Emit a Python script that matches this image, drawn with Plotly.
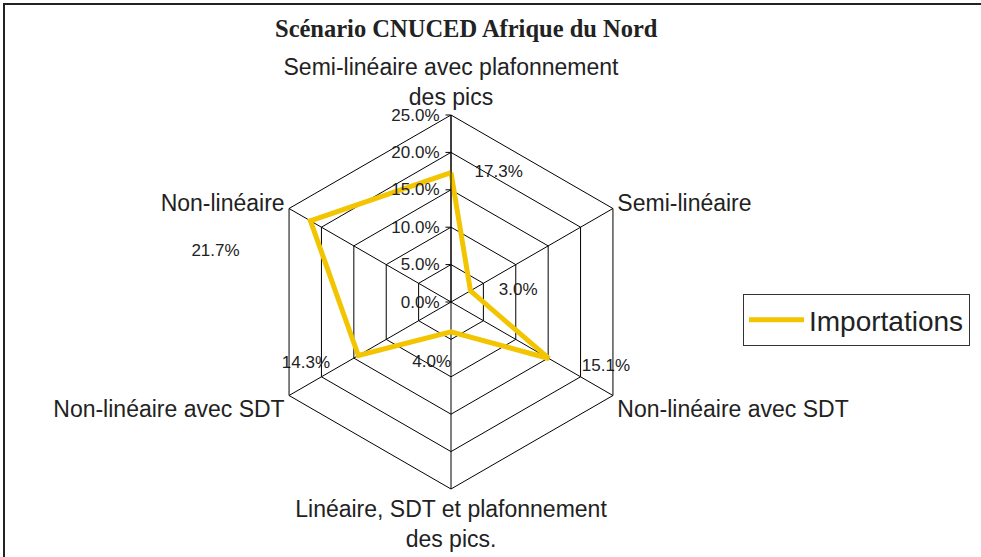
import plotly.graph_objects as go

W, H = 981, 557

categories = [
    "Semi-linéaire avec plafonnement des pics",
    "Semi-linéaire",
    "Non-linéaire avec SDT (1)",
    "Linéaire, SDT et plafonnement des pics.",
    "Non-linéaire avec SDT (2)",
    "Non-linéaire",
]
tick_labels = [
    "Semi-linéaire avec plafonnement<br>des pics",
    "Semi-linéaire",
    "Non-linéaire avec SDT",
    "Linéaire, SDT et plafonnement<br>des pics.",
    "Non-linéaire avec SDT",
    "Non-linéaire",
]
importations = [0.173, 0.030, 0.151, 0.040, 0.143, 0.217]
value_labels = ["17.3%", "3.0%", "15.1%", "4.0%", "14.3%", "21.7%"]

NB = "\u00a0"
label_text = [
    NB * 5 + value_labels[0],
    NB * 6 + value_labels[1],
    NB * 7 + value_labels[2],
    "<br>" + value_labels[3],
    value_labels[4] + NB * 6,
    "<br>" + value_labels[5] + NB * 15,
]
label_pos = ["middle right", "middle right", "bottom right",
             "bottom left", "bottom left", "bottom left"]

YELLOW = "#F2C500"
DARK = "#222222"

fig = go.Figure()
fig.add_trace(go.Scatterpolar(
    r=importations + importations[:1],
    theta=categories + categories[:1],
    mode="lines",
    line=dict(color=YELLOW, width=5),
    name="Importations",
))
fig.add_trace(go.Scatterpolar(
    r=importations,
    theta=categories,
    mode="text",
    text=label_text,
    textposition=label_pos,
    textfont=dict(family="Liberation Sans, Arial", size=17, color=DARK),
    showlegend=False,
    hoverinfo="skip",
))

cx, cy, R = 451, 302, 187
fig.update_layout(
    width=W, height=H,
    margin=dict(l=0, r=0, t=0, b=0),
    paper_bgcolor="white",
    plot_bgcolor="white",
    font=dict(family="Liberation Sans, Arial", color=DARK),
    polar=dict(
        domain=dict(x=[(cx - R) / W, (cx + R) / W],
                    y=[(H - cy - R) / H, (H - cy + R) / H]),
        bgcolor="white",
        gridshape="linear",
        radialaxis=dict(
            range=[0, 0.25], dtick=0.05, tick0=0, tickformat=".1%",
            angle=90, side="counterclockwise", tickangle=90,
            showline=True, linecolor="black", linewidth=1,
            gridcolor="black", gridwidth=1,
            ticks="outside", ticklen=5, tickcolor="black",
            tickfont=dict(size=17, color=DARK),
        ),
        angularaxis=dict(
            type="category",
            direction="clockwise", rotation=90,
            tickmode="array", tickvals=categories, ticktext=tick_labels,
            showline=True, linecolor="black", linewidth=1,
            gridcolor="black", gridwidth=1,
            ticks="", tickfont=dict(size=23, color=DARK),
        ),
    ),
    showlegend=True,
    legend=dict(
        x=743 / W, y=1 - 294 / H, xanchor="left", yanchor="top",
        bordercolor="#333333", borderwidth=1, bgcolor="white",
        font=dict(size=28, color=DARK), itemwidth=55,
    ),
    annotations=[dict(
        text="<b>Scénario CNUCED Afrique du Nord</b>",
        xref="paper", yref="paper", x=466 / W, y=1 - 28 / H,
        xanchor="center", yanchor="middle", showarrow=False,
        font=dict(family="Liberation Serif, Times New Roman", size=24.5, color=DARK),
    )],
    shapes=[
        dict(type="line", xref="paper", yref="paper", x0=3 / W, x1=1, y0=1 - 4 / H, y1=1 - 4 / H,
             line=dict(color="#222222", width=2)),
        dict(type="line", xref="paper", yref="paper", x0=4 / W, x1=4 / W, y0=0, y1=1 - 3 / H,
             line=dict(color="#222222", width=2)),
    ],
)

fig.write_html(
    "out.html",
    config={"displayModeBar": False},
    post_script="document.body.style.margin='0';document.body.style.overflow='hidden';",
)
